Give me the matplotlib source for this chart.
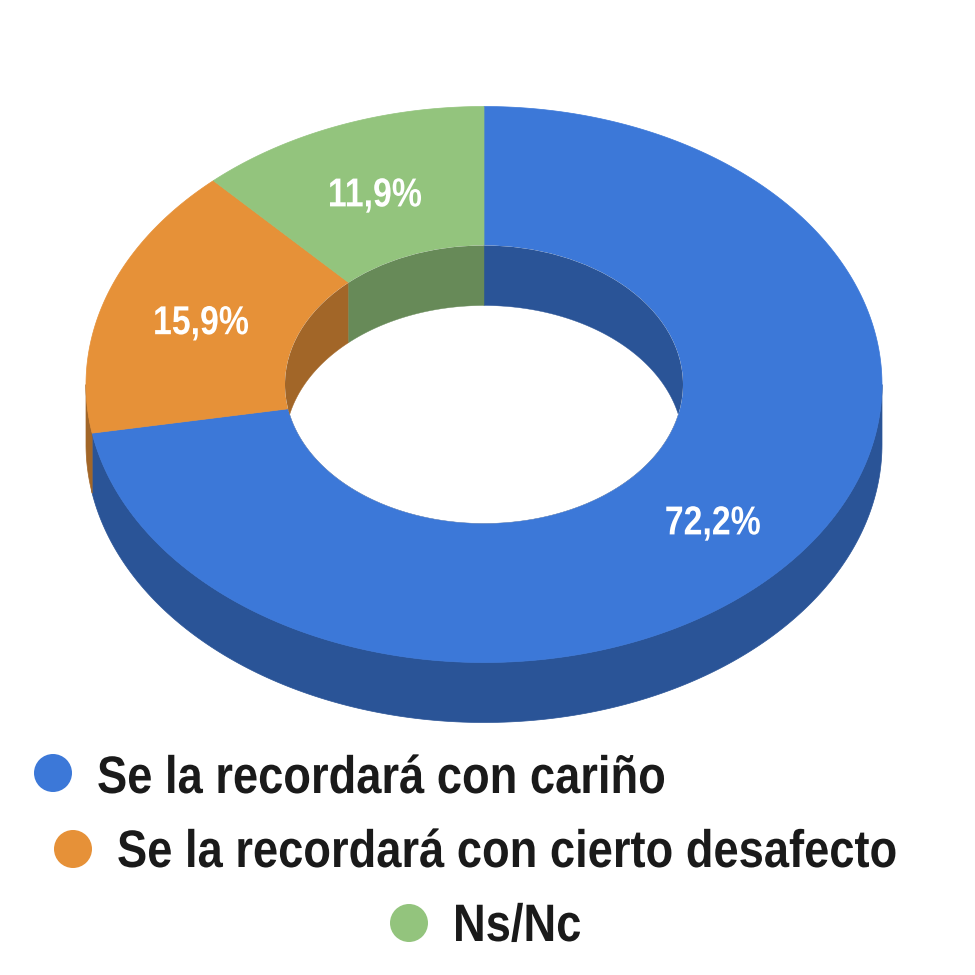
import numpy as np
import matplotlib
matplotlib.use("Agg")
import matplotlib.pyplot as plt
from matplotlib.patches import Polygon, Ellipse
from matplotlib.patheffects import AbstractPathEffect
from matplotlib.transforms import Affine2D

categories = ["Se la recordará con cariño", "Se la recordará con cierto desafecto", "Ns/Nc"]
values = [72.2, 15.9, 11.9]
labels = ["72,2%", "15,9%", "11,9%"]
colors = ["#3c78d8", "#e69138", "#93c47d"]
dark = ["#2a5497", "#a26628", "#678a58"]

CX, CY, RX, RY, HOLE, DEPTH = 484, 384.5, 398, 278, 0.5, 60
FAMILY = "Liberation Sans"


class Stretch(AbstractPathEffect):
    """Condense or heighten a real text artist's glyphs about its anchor."""

    def __init__(self, sx, sy, centre=False):
        super().__init__()
        self.sx, self.sy, self.centre = sx, sy, centre

    def draw_path(self, renderer, gc, tpath, affine, rgbFace=None):
        x0, y0 = affine.transform((0, 0))
        if self.centre:
            ext = affine.transform_path(tpath).get_extents()
            x0 = (ext.x0 + ext.x1) / 2
        extra = Affine2D().translate(-x0, -y0).scale(self.sx, self.sy).translate(x0, y0)
        renderer.draw_path(gc, tpath, affine + extra, rgbFace)


fig = plt.figure(figsize=(9.75, 9.75), dpi=100)
ax = fig.add_axes([0, 0, 1, 1])
ax.set_xlim(0, 975)
ax.set_ylim(975, 0)
ax.axis("off")


def pts(a, f=1.0, dy=0.0):
    t = np.radians(a)
    return np.column_stack([CX + RX * f * np.sin(t), CY - RY * f * np.cos(t) + dy])


cum = np.concatenate([[0], np.cumsum(values)]) / sum(values) * 360

# outer side wall (front half only)
for i in range(3):
    a0, a1 = max(cum[i], 90), min(cum[i + 1], 270)
    if a1 > a0:
        a = np.linspace(a0, a1, 200)
        ax.add_patch(Polygon(np.vstack([pts(a), pts(a[::-1], dy=DEPTH)]), fc=dark[i], ec=dark[i], lw=0.5, zorder=1))

# top faces
for i in range(3):
    a = np.linspace(cum[i], cum[i + 1], 300)
    ax.add_patch(Polygon(np.vstack([pts(a), pts(a[::-1], HOLE)]), fc=colors[i], ec=colors[i], lw=0.5, zorder=2))

# hole and inner wall
hole = Ellipse((CX, CY), 2 * RX * HOLE, 2 * RY * HOLE, fc="white", ec="none", zorder=3)
ax.add_patch(hole)
for i in range(3):
    a = np.linspace(cum[i], cum[i + 1], 300)
    wall = Polygon(np.vstack([pts(a, HOLE), pts(a[::-1], HOLE, dy=DEPTH)]), fc=dark[i], ec=dark[i], lw=0.3, zorder=4)
    ax.add_patch(wall)
    wall.set_clip_path(hole)

# value labels
for i in range(3):
    mid = (cum[i] + cum[i + 1]) / 2
    p = pts(np.array([mid]), 0.75, dy=16)[0]
    t = ax.text(p[0], p[1], labels[i], color="white", fontsize=28, fontweight="bold", family=FAMILY,
                ha="center", va="baseline", zorder=6)
    t.set_path_effects([Stretch(0.87, 1.04, centre=True)])

# legend
leg_x = [53, 73, 409]
leg_y = [773, 849, 923]
text_y = [793, 867, 941]
for i in range(3):
    ax.add_patch(Ellipse((leg_x[i], leg_y[i]), 38, 38, fc=colors[i], ec="none", zorder=5))
    t = ax.text(leg_x[i] + 44, text_y[i], categories[i], color="#1a1a1a", fontsize=33, fontweight="bold",
                family=FAMILY, ha="left", va="baseline", zorder=6)
    t.set_path_effects([Stretch(0.988, 1.15)])

fig.savefig("out.png", dpi=100, facecolor="white")
